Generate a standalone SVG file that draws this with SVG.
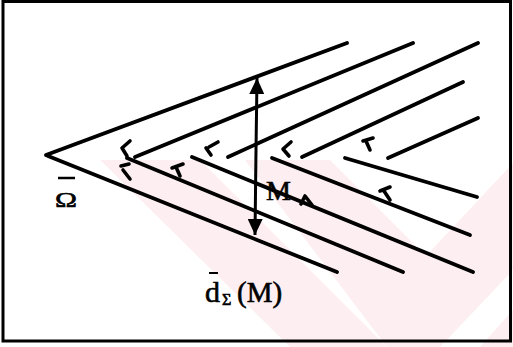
<svg xmlns="http://www.w3.org/2000/svg" width="513" height="347" viewBox="0 0 513 347">
<style>
.ln{stroke:#000;stroke-width:3.8;fill:none;stroke-linecap:round}
.mk{stroke:#000;stroke-width:3.6;fill:none;stroke-linecap:round;stroke-linejoin:round}
.wm{fill:#fdeef1;stroke:none}
.tx{font-family:"Liberation Serif","Times New Roman",serif;fill:#000;stroke:#000;stroke-width:0.6}
</style>
<defs>
<marker id="ah" viewBox="0 0 16 15" refX="16" refY="7.5" markerWidth="16" markerHeight="15" markerUnits="userSpaceOnUse" orient="auto">
<path d="M0,0 L16,7.5 L0,15 Z" fill="#000"/>
</marker>
</defs>
<rect x="0" y="0" width="513" height="347" fill="#fff"/>
<g id="watermark">
<polygon class="wm" points="100,160 200,160 387,347 290,347"/>
<polygon class="wm" points="245,160 330,160 426,256 513,163 513,270 440,347 387,347"/>
<polygon class="wm" points="513,310 513,347 480,347"/>
</g>
<rect id="frame" x="3" y="1.5" width="507.5" height="339.5" fill="none" stroke="#000" stroke-width="3"/>
<g id="connectors">
<line class="ln" x1="46" y1="155" x2="347" y2="43"/>
<line class="ln" x1="48" y1="156" x2="337" y2="272"/>
<line class="ln" x1="135" y1="157" x2="413" y2="43"/>
<line class="ln" x1="127" y1="158" x2="403" y2="272"/>
<line class="ln" x1="228" y1="157" x2="478" y2="43"/>
<line class="ln" x1="192" y1="157" x2="473" y2="272"/>
<line class="ln" x1="302" y1="157" x2="463" y2="82"/>
<line class="ln" x1="272" y1="158" x2="470" y2="235"/>
<line class="ln" x1="388" y1="158" x2="478" y2="118"/>
<line class="ln" x1="345" y1="158" x2="477" y2="197"/>
<line stroke="#000" stroke-width="3" x1="256" y1="150" x2="257" y2="78" marker-end="url(#ah)"/>
<line stroke="#000" stroke-width="3" x1="256" y1="150" x2="255" y2="235" marker-end="url(#ah)"/>
</g>
<g id="marks">
<path class="mk" d="M130,141 L122,148 L127,156"/>
<path class="mk" d="M121,166 L129,164 M123,170 L130,179"/>
<path class="mk" d="M206,148 L211,155 M209,147 L218,142"/>
<path class="mk" d="M172,168 L183,164 M176,167 L180,176"/>
<path class="mk" d="M291,142 L283,149 L289,156"/>
<path class="mk" d="M301,204 L305,196 L312,205"/>
<path class="mk" d="M363,141 L373,138 M366,141 L370,150"/>
<path class="mk" d="M380,191 L390,187 M384,191 L390,200"/>
</g>
<g id="label-omega">
<text class="tx" x="55" y="207" font-size="22" textLength="22" lengthAdjust="spacingAndGlyphs">Ω</text>
<line stroke="#000" stroke-width="2.5" x1="58" y1="178" x2="75" y2="178"/>
</g>
<g id="label-M">
<text class="tx" x="266" y="200" font-size="28">M</text>
</g>
<g id="label-d">
<text class="tx" x="205" y="302" font-size="30">d</text>
<text class="tx" x="222" y="305" font-size="16">Σ</text>
<text class="tx" x="237" y="302" font-size="29">(M)</text>
<line stroke="#000" stroke-width="2" x1="209" y1="273" x2="218" y2="273"/>
</g>
</svg>
